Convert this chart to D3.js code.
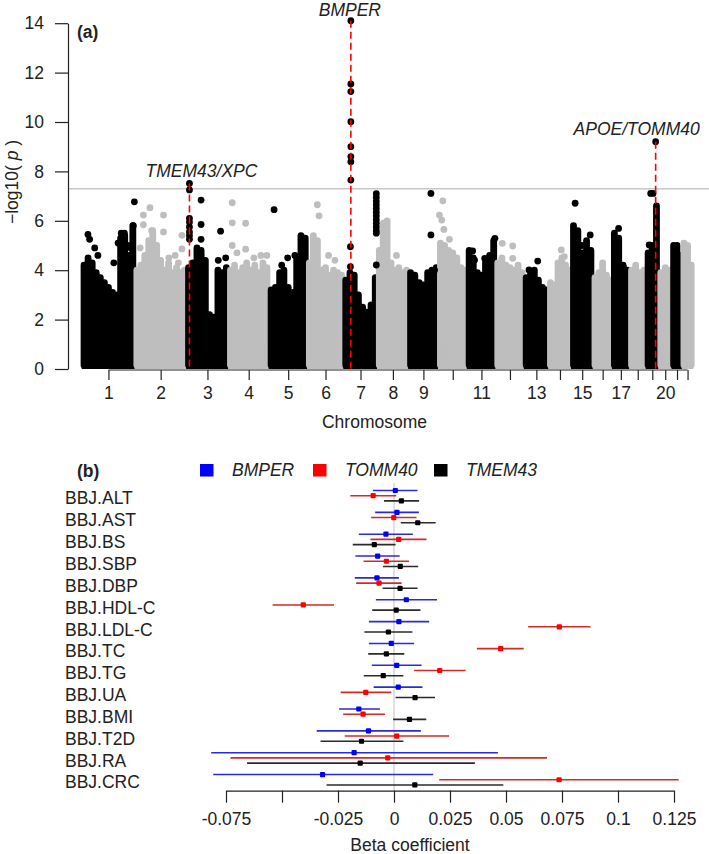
<!DOCTYPE html>
<html><head><meta charset="utf-8">
<script src="https://cdn.jsdelivr.net/npm/d3@7"></script>
<style>
body{margin:0;background:#fff}
text{font-family:"Liberation Sans",Arial,sans-serif;fill:#222}
</style>
</head><body>
<svg id="c" width="709" height="854"></svg>
<script>
// ---------- Panel (a): Manhattan plot data ----------
const chromNames = ["1","2","3","4","5","6","7","8","9","10","11","12","13","14","15","16","17","18","19","20","21","22"];
const chromLengths = [249.3,243.2,198.0,191.2,180.9,171.1,159.1,146.4,141.2,135.5,135.0,133.9,115.2,107.3,102.5,90.4,81.2,78.1,59.1,63.0,48.1,51.3];
const chromTickLabels = ["1","2","3","4","5","6","7","8","9","","11","","13","","15","","17","","","20","",""];
// upper envelope (-log10 p) of the dense SNP mass, in equal bins along each chromosome
const chromTops = [
 [4.2,4.5,4.3,3.9,3.7,3.5,3.3,3.1,3.0,5.3,5.4,4.6,5.8],
 [4.0,4.2,4.6,5.2,5.6,5.0,4.4,4.0,4.3,3.9,4.1,3.9,4.0],
 [4.1,4.3,4.9,4.7,4.4,2.2,2.1,4.0,3.9,4.1],
 [4.0,4.2,3.9,4.1,4.3,4.0,4.2,3.9,4.3,4.1],
 [3.2,3.3,3.9,4.0,3.3,3.1,4.5,5.4,5.3],
 [4.3,5.4,5.2,4.0,4.1,3.8,4.0,3.9,3.8],
 [3.6,3.9,3.8,3.0,2.5,2.3,2.6,3.7],
 [4.8,5.9,6.0,4.3,4.0,4.1,3.9,4.0],
 [3.9,3.8,3.5,3.4,3.9,4.0,4.1],
 [5.1,5.0,4.8,4.7,4.5,4.1,4.0],
 [4.8,4.5,3.9,3.8,4.4,4.6,5.2],
 [4.3,4.5,4.2,4.1,4.0,4.2,3.9],
 [3.7,3.8,4.0,3.6,3.3,3.2],
 [3.5,3.4,4.3,4.5,4.2,4.0],
 [5.8,5.6,4.7,5.2,4.8],
 [3.7,3.9,4.3,3.8,3.6],
 [5.5,5.3,4.2,4.0],
 [4.0,4.2,3.9,4.0],
 [4.7,5.0,6.6],
 [3.9,4.1,4.0],
 [5.0,5.0,4.6],
 [5.1,5.0,4.2]
];
// individual SNPs standing above the mass: [chromosome, position (Mb), -log10 p]
const snpPoints = [
 [1,28,5.45],[1,36,5.25],[1,247,6.77],[1,242,5.8],[1,200,5.5],[1,185,5.5],
 [1,60,4.9],[1,75,4.6],[1,150,4.3],[1,170,5.1],[1,215,5.0],[1,230,4.9],
 [2,40,6.23],[2,40,5.84],[2,71,6.53],[2,79,5.6],[2,135,6.23],[2,135,5.55],[2,222,5.41],[2,222,4.86],
 [2,25,4.9],[2,100,4.8],[2,160,4.5],[2,190,4.6],[2,205,4.3],
 [3,14.2,7.51],[3,14.2,7.25],[3,14.2,6.1],[3,14.2,5.95],[3,14.2,5.75],[3,14.2,5.55],[3,14.2,5.4],[3,14.2,5.25],
 [3,69,6.84],[3,69,5.85],[3,69,5.25],[3,69,4.8],[3,161,5.58],[3,150,4.4],[3,185,4.5],
 [4,18,6.73],[4,18,5.92],[4,81,5.9],[4,18,5.0],[4,81,4.85],[4,153,4.6],[4,181,4.6],[4,40,4.7],[4,120,4.5],
 [5,24,6.45],[5,122,4.6],[5,166,5.3],[5,88,4.5],[5,60,4.2],
 [6,47,6.65],[6,55,6.2],[6,100,4.6],[6,130,4.4],
 [7,34.0,14.1],[7,34.0,11.54],[7,34.0,11.23],[7,34.0,10.01],[7,34.0,9.0],[7,34.0,8.6],[7,34.0,8.39],[7,34.0,7.65],
 [7,32,4.95],[7,32,4.14],
 [7,154,7.1],[7,154,6.95],[7,154,6.8],[7,154,6.65],[7,154,6.5],[7,154,6.35],[7,154,6.2],[7,154,6.05],[7,154,5.9],[7,154,5.75],[7,154,5.6],[7,154,5.5],[7,154,4.21],
 [8,40,5.6],[8,30,5.2],[8,90,4.6],
 [9,106,7.11],[9,106,5.43],[9,123,4.0],
 [10,21,6.81],[10,5,6.23],[10,16,6.03],[10,26,5.65],[10,52,5.25],
 [11,26,4.78],[11,35,4.41],[11,83,4.48],[11,131,5.29],
 [12,31,5.09],[12,80,4.98],[12,80,4.48],
 [13,23,4.01],[13,64,4.37],
 [14,60,4.82],[14,74,4.55],
 [15,18,6.71],[15,89,5.43],[15,50,5.0],
 [17,30,5.69],[17,52,4.14],
 [19,22,7.11],[19,33,7.11],[19,15,5.02],[19,45.4,9.2]
];
const hitGenes = ["TMEM43/XPC","BMPER","APOE/TOMM40"];
const hitChrom = [3,7,19];
const hitPos = [14.2,34.0,45.4];
const hitTop = [7.51,14.1,9.2];
const gwasThreshold = 7.3;
const yTicksA = [0,2,4,6,8,10,12,14];

// ---------- Panel (b): forest plot data ----------
const traits = ["BBJ.ALT","BBJ.AST","BBJ.BS","BBJ.SBP","BBJ.DBP","BBJ.HDL-C","BBJ.LDL-C","BBJ.TC","BBJ.TG","BBJ.UA","BBJ.BMI","BBJ.T2D","BBJ.RA","BBJ.CRC"];
const genes = ["BMPER","TOMM40","TMEM43"];
const bmperBeta = [0.0006,0.0013,-0.0036,-0.0073,-0.0076,0.0055,0.0022,-0.0012,0.0012,0.0019,-0.0157,-0.0114,-0.0178,-0.0319];
const bmperLo   = [-0.0094,-0.0084,-0.0157,-0.0172,-0.0175,-0.0081,-0.0112,-0.0112,-0.0099,-0.0091,-0.0245,-0.0345,-0.0816,-0.0807];
const bmperHi   = [0.0105,0.0111,0.0084,0.0025,0.0022,0.0192,0.0157,0.0090,0.0123,0.0127,-0.0063,0.0120,0.0464,0.0175];
const tomm40Beta = [-0.0093,-0.0001,0.0021,-0.0034,-0.0067,-0.0405,0.0738,0.0476,0.0204,-0.0126,-0.0138,0.0012,-0.0028,0.0737];
const tomm40Lo   = [-0.0195,-0.0102,-0.0105,-0.0136,-0.0169,-0.0542,0.0599,0.0370,0.0090,-0.0238,-0.0227,-0.0220,-0.0730,0.0202];
const tomm40Hi   = [0.0010,0.0100,0.0145,0.0067,0.0034,-0.0268,0.0877,0.0579,0.0320,-0.0012,-0.0040,0.0246,0.0683,0.1271];
const tmem43Beta = [0.0033,0.0106,-0.0088,0.0028,0.0027,0.0010,-0.0025,-0.0034,-0.0048,0.0094,0.0069,-0.0145,-0.0151,0.0093];
const tmem43Lo   = [-0.0045,0.0030,-0.0184,-0.0049,-0.0051,-0.0097,-0.0132,-0.0115,-0.0135,0.0007,-0.0004,-0.0328,-0.0656,-0.0301];
const tmem43Hi   = [0.0112,0.0186,0.0007,0.0108,0.0105,0.0118,0.0082,0.0046,0.0042,0.0183,0.0144,0.0042,0.0361,0.0488];
const betaTicks = [-0.075,-0.05,-0.025,0,0.025,0.05,0.075,0.1,0.125];
const betaTickLabels = ["-0.075","","-0.025","0","0.025","0.05","0.075","0.1","0.125"];

// ---------- drawing ----------
const FONT = 17.5;
const svg = d3.select("#c");
const BLACK = "#000", GRAY = "#bebebe";

// Manhattan scales
const chromStart = [];
let acc = 0;
chromLengths.forEach(l => { chromStart.push(acc); acc += l; });
const xG = d3.scaleLinear().domain([0, acc]).range([82, 693]);
const yM = d3.scaleLinear().domain([0, 14]).range([369, 23.2]);
const R = 3.4;
const gA = svg.append("g");

// genome-wide significance line
gA.append("line").attr("x1", 68).attr("x2", 709)
  .attr("y1", yM(gwasThreshold)).attr("y2", yM(gwasThreshold))
  .attr("stroke", "#c8c8c8").attr("stroke-width", 1.6);

// dense SNP mass per chromosome
chromTops.forEach((tops, ci) => {
  const n = tops.length, len = chromLengths[ci], s = chromStart[ci];
  const col = ci % 2 === 0 ? BLACK : GRAY;
  tops.forEach((t, k) => {
    const x0 = xG(s + k * len / n), x1 = xG(s + (k + 1) * len / n);
    const cx = (x0 + x1) / 2, w = Math.max(x1 - x0 + 1.5, 2 * R);
    gA.append("rect")
      .attr("x", cx - w / 2).attr("width", w)
      .attr("y", yM(t) - R).attr("height", yM(0) - 0.5 - (yM(t) - R))
      .attr("rx", R).attr("ry", R).attr("fill", col);
    gA.append("rect")
      .attr("x", x0 - 0.3).attr("width", x1 - x0 + 0.6)
      .attr("y", yM(Math.min(t, 1))).attr("height", yM(0) - yM(Math.min(t, 1)))
      .attr("fill", col);
  });
});

// individual SNPs
gA.selectAll("circle.snp").data(snpPoints).join("circle").attr("class", "snp")
  .attr("cx", d => xG(chromStart[d[0] - 1] + d[1]))
  .attr("cy", d => yM(d[2]))
  .attr("r", R)
  .attr("fill", d => (d[0] - 1) % 2 === 0 ? BLACK : GRAY);

// hit lines and labels
const labelDx = [12, -1, -19];
const labelDy = [-7, -4.7, -7];
hitGenes.forEach((g, i) => {
  const x = xG(chromStart[hitChrom[i] - 1] + hitPos[i]);
  gA.append("line").attr("x1", x).attr("x2", x)
    .attr("y1", yM(hitTop[i])).attr("y2", yM(0))
    .attr("stroke", "#ff0000").attr("stroke-width", 1.6)
    .attr("stroke-dasharray", "7,4");
  gA.append("text").attr("x", x + labelDx[i]).attr("y", yM(hitTop[i]) + labelDy[i])
    .attr("text-anchor", "middle").attr("font-style", "italic")
    .attr("font-size", FONT).text(g);
});

// y axis
const yAx = gA.append("g").attr("transform", "translate(68,0)")
  .call(d3.axisLeft(yM).tickValues(yTicksA).tickSize(13).tickSizeOuter(0).tickFormat(d3.format("d")));
yAx.select(".domain").attr("stroke", "#222").attr("stroke-width", 1.2);
yAx.selectAll(".tick line").attr("stroke", "#222").attr("stroke-width", 1.2);
yAx.selectAll(".tick text").attr("x", -24).attr("text-anchor", "end")
  .attr("font-size", FONT).attr("font-family", "Liberation Sans, Arial, sans-serif").attr("fill", "#222");

// x axis (chromosomes)
const centers = chromLengths.map((l, i) => chromStart[i] + l / 2);
const xAx = gA.append("g").attr("transform", "translate(0,370)")
  .call(d3.axisBottom(xG).tickValues(centers).tickSize(10).tickPadding(7).tickSizeOuter(0)
    .tickFormat((d, i) => chromTickLabels[i]));
xAx.select(".domain").remove();
xAx.append("line").attr("x1", xG(centers[0])).attr("x2", xG(centers[centers.length - 1]))
  .attr("stroke", "#222").attr("stroke-width", 1.2);
xAx.selectAll(".tick line").attr("stroke", "#222").attr("stroke-width", 1.2);
xAx.selectAll(".tick text").attr("font-size", FONT)
  .attr("font-family", "Liberation Sans, Arial, sans-serif").attr("fill", "#222");

gA.append("text").attr("x", 374.5).attr("y", 428).attr("text-anchor", "middle")
  .attr("font-size", FONT).text("Chromosome");
const yl = gA.append("text").attr("transform", "translate(18,182) rotate(-90)")
  .attr("text-anchor", "middle").attr("font-size", FONT);
yl.append("tspan").text("\u2212log10(");
yl.append("tspan").attr("font-style", "italic").text(" p ");
yl.append("tspan").text(")");
gA.append("text").attr("x", 77).attr("y", 38).attr("font-weight", "bold")
  .attr("font-size", FONT).text("(a)");

// ---------- Forest plot ----------
const gB = svg.append("g");
const xF = d3.scaleLinear().domain([-0.075, 0.125]).range([226, 674]);
const yF = d3.scalePoint().domain(traits).range([495.7, 779.75]);
const gOff = d3.scalePoint().domain(genes).range([-5.2, 5.2]);
const geneCol = {BMPER: "#0000ff", TOMM40: "#ff0000", TMEM43: "#000000"};
const geneLine = {BMPER: "#2a2ad6", TOMM40: "#d02a2a", TMEM43: "#2a2a2a"};
const geneData = {
  BMPER: [bmperBeta, bmperLo, bmperHi],
  TOMM40: [tomm40Beta, tomm40Lo, tomm40Hi],
  TMEM43: [tmem43Beta, tmem43Lo, tmem43Hi]
};

gB.append("line").attr("x1", xF(0)).attr("x2", xF(0)).attr("y1", 483).attr("y2", 790.7)
  .attr("stroke", "#cfcfcf").attr("stroke-width", 1.3);

genes.forEach(g => {
  const [b, lo, hi] = geneData[g];
  traits.forEach((t, i) => {
    const y = yF(t) + gOff(g);
    gB.append("line").attr("x1", xF(lo[i])).attr("x2", xF(hi[i]))
      .attr("y1", y).attr("y2", y).attr("stroke", geneLine[g]).attr("stroke-width", 1.6);
    gB.append("rect").attr("x", xF(b[i]) - 2.6).attr("y", y - 2.6)
      .attr("width", 5.2).attr("height", 5.2).attr("rx", 1).attr("fill", geneCol[g]);
  });
});

gB.selectAll("text.trait").data(traits).join("text").attr("class", "trait")
  .attr("x", 65).attr("y", d => yF(d) + 2.6).attr("dy", "0.35em")
  .attr("font-size", FONT).text(d => d);

// legend
const legX = [200, 313, 434];
genes.forEach((g, i) => {
  gB.append("rect").attr("x", legX[i]).attr("y", 464).attr("width", 13.5).attr("height", 12.5)
    .attr("fill", geneCol[g]);
  gB.append("text").attr("x", legX[i] + 32).attr("y", 470).attr("dy", "0.35em")
    .attr("font-style", "italic").attr("font-size", FONT).text(g);
});
gB.append("text").attr("x", 77).attr("y", 471).attr("dy", "0.35em")
  .attr("font-weight", "bold").attr("font-size", FONT).text("(b)");

const fAx = gB.append("g").attr("transform", "translate(0,790.7)")
  .call(d3.axisBottom(xF).tickValues(betaTicks).tickSize(12).tickPadding(10).tickSizeOuter(0)
    .tickFormat((d, i) => betaTickLabels[i]));
fAx.select(".domain").attr("stroke", "#222").attr("stroke-width", 1.2);
fAx.selectAll(".tick line").attr("stroke", "#222").attr("stroke-width", 1.2);
fAx.selectAll(".tick text").attr("font-size", FONT)
  .attr("font-family", "Liberation Sans, Arial, sans-serif").attr("fill", "#222");
gB.append("text").attr("x", 410).attr("y", 851).attr("text-anchor", "middle")
  .attr("font-size", FONT).text("Beta coefficient");
</script>
</body></html>
